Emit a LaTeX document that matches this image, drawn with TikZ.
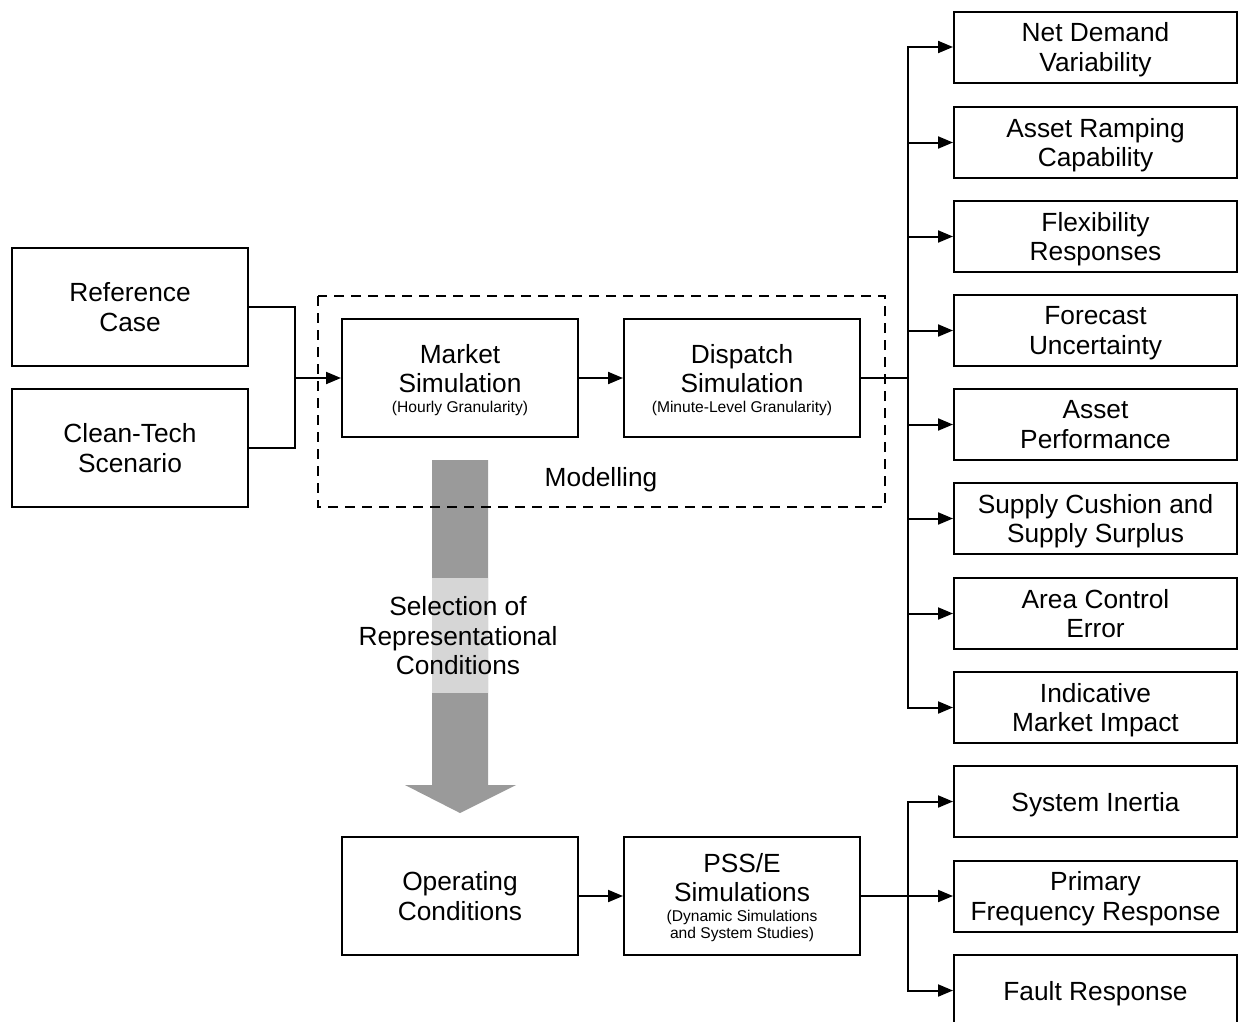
\documentclass[tikz,border=0pt]{standalone}
\usepackage{fontspec}
\setmainfont{Liberation Sans}
\usetikzlibrary{arrows.meta}
\newcommand{\bigf}{\fontsize{26.3}{29.5}\selectfont}
\newcommand{\smallf}{\fontsize{15.6}{17}\selectfont}
\begin{document}
\begin{tikzpicture}[x=1pt,y=-1pt,
  box/.style={draw,line width=2pt,minimum width=236pt,minimum height=118pt,align=center,font=\bigf,inner sep=0pt,text depth=0pt},
  rbox/.style={draw,line width=2pt,minimum width=283pt,minimum height=71pt,align=center,font=\bigf,inner sep=0pt,text depth=0pt},
  conn/.style={line width=2pt},
  arr/.style={line width=2pt,-{Triangle[length=15pt,width=12pt]}}]
\useasboundingbox (0,0) rectangle (1238,1021);
% gray arrow
\fill[fill={rgb,255:red,154;green,154;blue,154}] (432,460) -- (488,460) -- (488,785) -- (516,785) -- (460,813) -- (405,785) -- (432,785) -- cycle;
\fill[fill={rgb,255:red,214;green,214;blue,214}] (432,578) rectangle (488,693);
\node[font=\bigf,align=center] (sel) at (458,636) {Selection of\\Representational\\Conditions};
% modelling box
\draw[line width=2pt,dash pattern=on 10pt off 7pt] (318,296) rectangle (885,507);
\node[font=\bigf] (model) at (601,480) {Modelling};
% left
\node[box] (ref) at (130,307) {Reference\\Case};
\node[box] (clean) at (130,448) {Clean-Tech\\Scenario};
\node[box] (market) at (460,378) {Market\\Simulation\\[-10pt]{\smallf (Hourly Granularity)}};
\node[box] (disp) at (742,378) {Dispatch\\Simulation\\[-10pt]{\smallf (Minute-Level Granularity)}};
\node[box] (oper) at (460,896) {Operating\\Conditions};
\node[box] (pss) at (742,896) {PSS/E\\Simulations\\[-10pt]{\smallf (Dynamic Simulations}\\[-12pt]{\smallf and System Studies)}};
% right
\node[rbox] (r1) at (1095.5,47) {Net Demand\\Variability};
\node[rbox] (r2) at (1095.5,142.5) {Asset Ramping\\Capability};
\node[rbox] (r3) at (1095.5,236.5) {Flexibility\\Responses};
\node[rbox] (r4) at (1095.5,330.5) {Forecast\\Uncertainty};
\node[rbox] (r5) at (1095.5,424.5) {Asset\\Performance};
\node[rbox] (r6) at (1095.5,518.5) {Supply Cushion and\\Supply Surplus};
\node[rbox] (r7) at (1095.5,613.5) {Area Control\\Error};
\node[rbox] (r8) at (1095.5,707.5) {Indicative\\Market Impact};
\node[rbox] (s1) at (1095.5,801.5) {System Inertia};
\node[rbox] (s2) at (1095.5,896) {Primary\\Frequency Response};
\node[rbox] (s3) at (1095.5,990.5) {Fault Response};
% connectors
\coordinate (j1) at (295,378);
\draw[conn] (ref.east) -| (j1) |- (clean.east);
\draw[arr] (j1) -- (market.west);
\draw[arr] (market.east) -- (disp.west);
\draw[arr] (oper.east) -- (pss.west);
\coordinate (t1) at (908,378);
\draw[conn] (disp.east) -- (t1);
\foreach \n in {r1,r2,r3,r4,r5,r6,r7,r8} \draw[arr] (t1) |- (\n.west);
\coordinate (t2) at (908,896);
\draw[conn] (pss.east) -- (t2);
\foreach \n in {s1,s2,s3} \draw[arr] (t2) |- (\n.west);
\end{tikzpicture}
\end{document}
